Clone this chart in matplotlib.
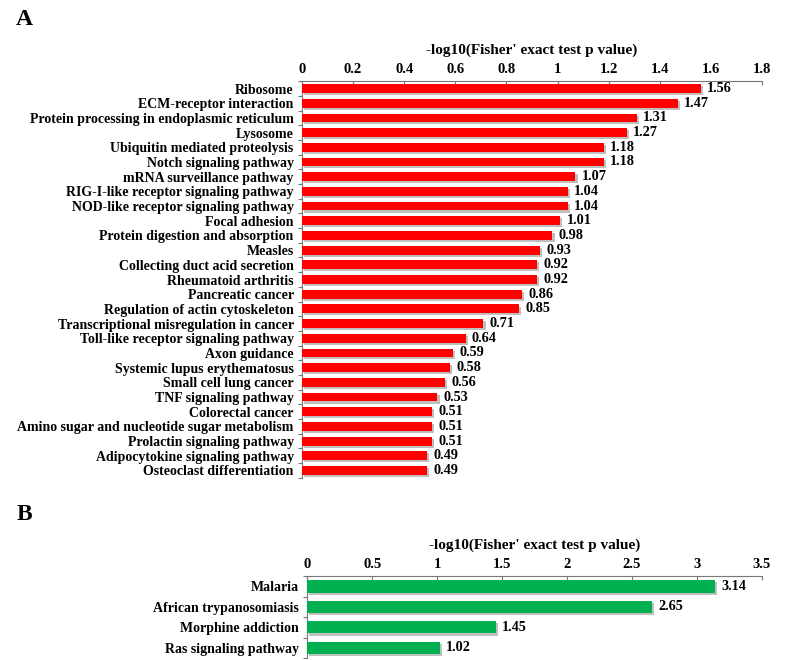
import numpy as np
import matplotlib.pyplot as plt
import matplotlib.patheffects as pe

plt.rcParams['font.family'] = ['Liberation Serif', 'DejaVu Serif']
plt.rcParams['font.weight'] = 'bold'

# Panel A data
pathways_a = ['Ribosome', 'ECM-receptor interaction', 'Protein processing in endoplasmic reticulum',
              'Lysosome', 'Ubiquitin mediated proteolysis', 'Notch signaling pathway',
              'mRNA surveillance pathway', 'RIG-I-like receptor signaling pathway',
              'NOD-like receptor signaling pathway', 'Focal adhesion', 'Protein digestion and absorption',
              'Measles', 'Collecting duct acid secretion', 'Rheumatoid arthritis', 'Pancreatic cancer',
              'Regulation of actin cytoskeleton', 'Transcriptional misregulation in cancer',
              'Toll-like receptor signaling pathway', 'Axon guidance', 'Systemic lupus erythematosus',
              'Small cell lung cancer', 'TNF signaling pathway', 'Colorectal cancer',
              'Amino sugar and nucleotide sugar metabolism', 'Prolactin signaling pathway',
              'Adipocytokine signaling pathway', 'Osteoclast differentiation']
values_a = [1.56, 1.47, 1.31, 1.27, 1.18, 1.18, 1.07, 1.04, 1.04, 1.01, 0.98, 0.93, 0.92, 0.92,
            0.86, 0.85, 0.71, 0.64, 0.59, 0.58, 0.56, 0.53, 0.51, 0.51, 0.51, 0.49, 0.49]
ticks_a = [0, 0.2, 0.4, 0.6, 0.8, 1, 1.2, 1.4, 1.6, 1.8]

# Panel B data
pathways_b = ['Malaria', 'African trypanosomiasis', 'Morphine addiction', 'Ras signaling pathway']
values_b = [3.14, 2.65, 1.45, 1.02]
ticks_b = [0, 0.5, 1, 1.5, 2, 2.5, 3, 3.5]

xlabel = "-log10(Fisher' exact test p value)"

fig = plt.figure(figsize=(8, 6.6), dpi=100)


def draw_panel(ax, names, vals, ticks, color, offset):
    n = len(names)
    y = np.arange(n)
    bars = ax.barh(y, vals, height=0.6, color=color, edgecolor='none', zorder=3)
    for b in bars:
        b.set_path_effects([pe.SimplePatchShadow(offset=(1.5, -1.5), shadow_rgbFace='#b0b0b0', alpha=0.8),
                            pe.Normal()])
    for yi, v in zip(y, vals):
        ax.text(v + offset, yi, f'{v:.2f}', va='center', ha='left', fontsize=10.3, fontweight='bold')
    ax.set_ylim(n - 0.5, -0.5)
    ax.set_xlim(ticks[0], ticks[-1])
    ax.set_xticks(ticks)
    ax.set_xticklabels([f'{t:g}' for t in ticks], fontsize=10.5, fontweight='bold')
    ax.xaxis.tick_top()
    ax.xaxis.set_label_position('top')
    ax.set_xlabel(xlabel, fontsize=11, fontweight='bold', labelpad=6)
    ax.tick_params(axis='x', direction='in', length=3, pad=4)
    ax.set_yticks(np.arange(n + 1) - 0.5)
    ax.set_yticklabels([])
    ax.set_yticks(y, minor=True)
    ax.set_yticklabels(names, minor=True, fontsize=10, fontweight='bold')
    ax.tick_params(axis='y', which='major', direction='out', length=3)
    ax.tick_params(axis='y', which='minor', length=0, pad=6)
    for s in ['right', 'bottom']:
        ax.spines[s].set_visible(False)
    for s in ['top', 'left']:
        ax.spines[s].set_color('#777777')
    ax.tick_params(colors='#777777', labelcolor='black', which='both')


ax1 = fig.add_axes([0.3775, 0.276, 0.575, 0.601])
draw_panel(ax1, pathways_a, values_a, ticks_a, '#ff0000', 0.025)

ax2 = fig.add_axes([0.384, 0.003, 0.5685, 0.124])
draw_panel(ax2, pathways_b, values_b, ticks_b, '#00b050', 0.05)

fig.text(0.03, 0.97, 'A', fontsize=17, fontweight='bold', ha='center', va='center')
fig.text(0.03, 0.22, 'B', fontsize=17, fontweight='bold', ha='center', va='center')

plt.savefig('out.png', dpi=100)
